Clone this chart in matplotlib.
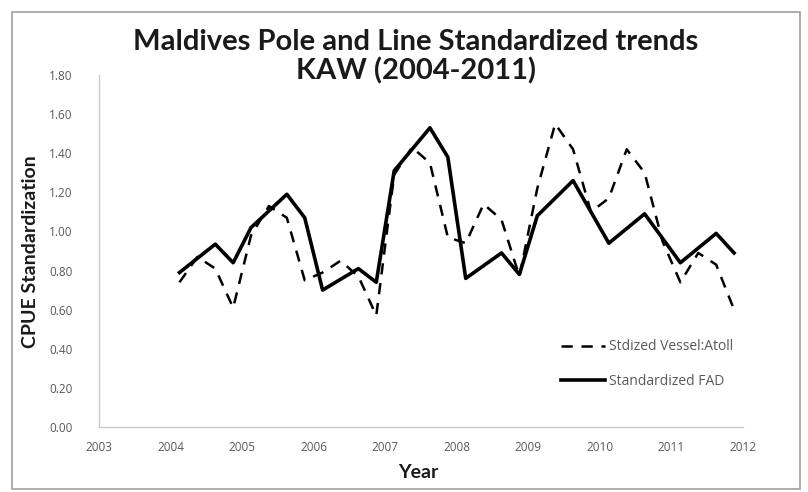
import matplotlib
matplotlib.use("Agg")
import matplotlib.pyplot as plt
from matplotlib.patches import Rectangle
from matplotlib.ticker import FormatStrFormatter, MultipleLocator

# ---- data ----
vessel_t = [2004.125, 2004.375, 2004.625, 2004.875,
            2005.125, 2005.375, 2005.625, 2005.875,
            2006.125, 2006.375, 2006.625, 2006.875,
            2007.125, 2007.375, 2007.625, 2007.875,
            2008.125, 2008.375, 2008.625, 2008.875,
            2009.125, 2009.375, 2009.625, 2009.875,
            2010.125, 2010.375, 2010.625, 2010.875,
            2011.125, 2011.375, 2011.625, 2011.875]
vessel_atoll = [0.74, 0.87, 0.81, 0.61,
                0.98, 1.13, 1.07, 0.75,
                0.79, 0.85, 0.77, 0.57,
                1.29, 1.43, 1.35, 0.97,
                0.94, 1.14, 1.06, 0.77,
                1.22, 1.55, 1.42, 1.10,
                1.17, 1.42, 1.30, 0.95,
                0.74, 0.89, 0.83, 0.60]

fad_t = [2004.125, 2004.625, 2004.875,
         2005.125, 2005.625, 2005.875,
         2006.125, 2006.625, 2006.875,
         2007.125, 2007.625, 2007.875,
         2008.125, 2008.625, 2008.875,
         2009.125, 2009.625,
         2010.125, 2010.625,
         2011.125, 2011.625, 2011.875]
fad = [0.79, 0.935, 0.84,
       1.02, 1.19, 1.07,
       0.70, 0.81, 0.74,
       1.31, 1.53, 1.38,
       0.76, 0.89, 0.78,
       1.08, 1.26,
       0.94, 1.09,
       0.84, 0.99, 0.89]

x_ticks = list(range(2003, 2013))
title = "Maldives Pole and Line Standardized trends\nKAW (2004-2011)"
series_names = ["Stdized Vessel:Atoll", "Standardized FAD"]

# ---- figure ----
W, H = 808, 492
fig = plt.figure(figsize=(W / 100, H / 100), dpi=100)
fig.patch.set_facecolor("white")
fig.patches.append(Rectangle((12 / W, 3 / H), (800 - 12) / W, (480 - 3) / H,
                             transform=fig.transFigure, fill=False,
                             edgecolor="#a0a0a0", linewidth=1.2))

L, R, T, B = 99, 743, 75, 427
ax = fig.add_axes([L / W, (H - B) / H, (R - L) / W, (B - T) / H])

ax.plot(vessel_t, vessel_atoll, color="black", linewidth=1.8,
        linestyle=(0, (4.5, 3.5)), label=series_names[0])
ax.plot(fad_t, fad, color="black", linewidth=2.6, label=series_names[1])

ax.set_xlim(2003, 2012)
ax.set_ylim(0, 1.8)
ax.set_xticks(x_ticks)
ax.set_xticklabels([str(x) for x in x_ticks])
ax.yaxis.set_major_locator(MultipleLocator(0.2))
ax.yaxis.set_major_formatter(FormatStrFormatter("%.2f"))

tfont = "Open Sans"
bfont = "Lato"
for lab in ax.get_xticklabels() + ax.get_yticklabels():
    lab.set_fontfamily(tfont)
    lab.set_fontsize(8.5)
    lab.set_color("#595959")
ax.tick_params(axis="both", length=0)
ax.tick_params(axis="y", pad=19)
ax.tick_params(axis="x", pad=10)

for s in ["top", "right"]:
    ax.spines[s].set_visible(False)
for s in ["left", "bottom"]:
    ax.spines[s].set_color("#c8c8c8")
    ax.spines[s].set_linewidth(1.0)

fig.text(416 / W, 1 - 57 / H, title, ha="center", va="center",
         fontsize=21, fontweight="bold", family=bfont, color="#1a1a1a",
         linespacing=1.1)
fig.text(31 / W, 1 - 252 / H, "CPUE Standardization", rotation=90,
         ha="center", va="center", fontsize=14, fontweight="bold",
         family=bfont, color="#1a1a1a")
fig.text(418 / W, 1 - 473 / H, "Year", ha="center", va="center",
         fontsize=14, fontweight="bold", family=bfont, color="#1a1a1a")

leg = ax.legend(loc="upper left", bbox_to_anchor=((548 - L) / (R - L), (B - 327) / (B - T)),
                frameon=False, handlelength=3.2, handletextpad=0.3,
                labelspacing=1.4, prop={"family": tfont, "size": 10})
for t in leg.get_texts():
    t.set_color("#595959")

fig.savefig("out.png", dpi=100, facecolor="white")
